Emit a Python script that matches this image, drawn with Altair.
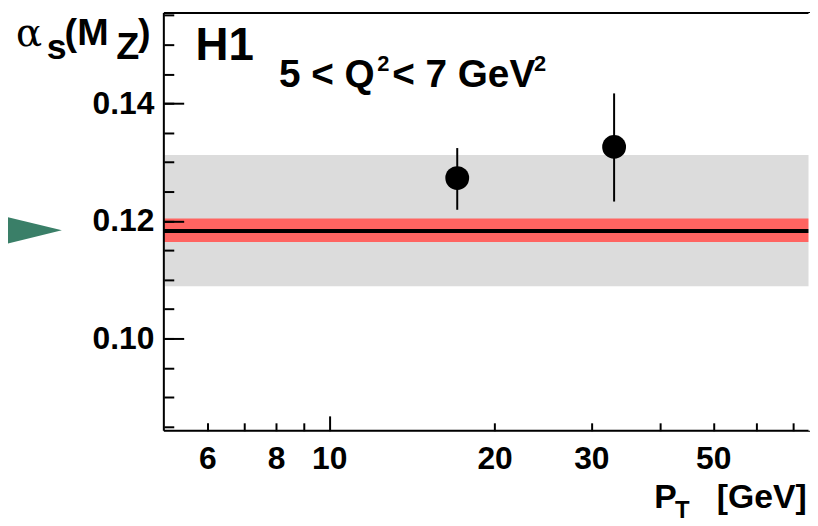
import altair as alt
import pandas as pd

# ---------------- data ----------------
pt_gev = [17.1, 33.0]
alpha_s = [0.1273, 0.1326]
alpha_lo = [0.1219, 0.1233]
alpha_hi = [0.1324, 0.1417]

theory_band = [0.1089, 0.1312]      # grey band (lo, hi)
world_band = [0.1164, 0.1204]       # red band (lo, hi)
world_avg = [0.1183]                # black line

arrow_pt = [2.75]
arrow_alpha = [0.1184]

x_label_values = [6, 8, 10, 20, 30, 50]
x_major_ticks = [10]
x_minor_ticks = [6, 7, 8, 9, 20, 30, 40, 50, 60, 70]
y_label_values = [0.10, 0.12, 0.14]
y_minor_ticks = [0.085, 0.09, 0.095, 0.10, 0.105, 0.11, 0.115, 0.12,
                 0.125, 0.13, 0.135, 0.14, 0.145, 0.15, 0.155]

X_DOMAIN = [5, 75]
Y_DOMAIN = [0.0843, 0.1554]

points = pd.DataFrame({"pt": pt_gev, "a": alpha_s, "lo": alpha_lo, "hi": alpha_hi})
grey = pd.DataFrame({"lo": [theory_band[0]], "hi": [theory_band[1]]})
red = pd.DataFrame({"lo": [world_band[0]], "hi": [world_band[1]]})
avg = pd.DataFrame({"v": world_avg})
arrow = pd.DataFrame({"x": arrow_pt, "y": arrow_alpha})
frame_left = pd.DataFrame({"v": [X_DOMAIN[0]]})
frame_right = pd.DataFrame({"v": [X_DOMAIN[1]]})
frame_hor = pd.DataFrame({"v": Y_DOMAIN})

FONT = "Liberation Sans"
xs = alt.Scale(type="log", domain=X_DOMAIN, nice=False, zero=False)
ys = alt.Scale(domain=Y_DOMAIN, nice=False, zero=False)

no_axis_common = dict(title=None, grid=False, zindex=2)

x_label_axis = alt.Axis(values=x_label_values, format="d", labels=True, ticks=False,
                        domain=False,
                        labelFont=FONT, labelFontWeight="bold", labelFontSize=32,
                        labelColor="black", labelPadding=13, labelOverlap=False,
                        labelFlush=False, labelBound=False, orient="bottom", **no_axis_common)
y_label_axis = alt.Axis(values=y_label_values, format=".2f", labels=True, ticks=False,
                        domain=False,
                        labelFont=FONT, labelFontWeight="bold", labelFontSize=32,
                        labelColor="black", labelPadding=10, labelOverlap=False,
                        labelFlush=False, labelBound=False, orient="left", **no_axis_common)


def tick_axis(values, size, orient):
    return alt.Axis(values=values, labels=False, ticks=True, domain=False,
                    tickSize=size, tickWidth=2, tickColor="black", offset=-size,
                    orient=orient, **no_axis_common)


base_pts = alt.Chart(points)

grey_band = alt.Chart(grey).mark_rect(color="#dcdcdc").encode(
    y=alt.Y("lo:Q", scale=ys, axis=None), y2="hi:Q")
red_band = alt.Chart(red).mark_rect(color="#ff6461").encode(
    y=alt.Y("lo:Q", scale=ys, axis=None), y2="hi:Q")
avg_line = alt.Chart(avg).mark_rule(color="black", strokeWidth=4).encode(
    y=alt.Y("v:Q", scale=ys, axis=None))

left_frame = alt.Chart(frame_left).mark_rule(color="black", strokeWidth=2).encode(
    x=alt.X("v:Q", scale=xs, axis=None))
hor_frame = alt.Chart(frame_hor).mark_rule(color="black", strokeWidth=2).encode(
    y=alt.Y("v:Q", scale=ys, axis=None))
# the reference's frame runs off the right edge: keep that edge open
right_open = alt.Chart(frame_right).mark_rule(color="white", strokeWidth=3).encode(
    x=alt.X("v:Q", scale=xs, axis=None))

err = base_pts.mark_rule(color="black", strokeWidth=2).encode(
    x=alt.X("pt:Q", scale=xs, axis=x_label_axis),
    y=alt.Y("lo:Q", scale=ys, axis=y_label_axis), y2="hi:Q")
dots = base_pts.mark_circle(color="black", size=576, opacity=1).encode(
    x=alt.X("pt:Q", scale=xs, axis=None),
    y=alt.Y("a:Q", scale=ys, axis=None))

major_ticks = base_pts.mark_point(opacity=0).encode(
    x=alt.X("pt:Q", scale=xs, axis=tick_axis(x_major_ticks, 15, "bottom")),
    y=alt.Y("a:Q", scale=ys, axis=tick_axis(y_label_values, 20, "left")))
minor_ticks = base_pts.mark_point(opacity=0).encode(
    x=alt.X("pt:Q", scale=xs, axis=tick_axis(x_minor_ticks, 8, "bottom")),
    y=alt.Y("a:Q", scale=ys, axis=tick_axis(y_minor_ticks, 10, "left")))

arrow_mark = alt.Chart(arrow).mark_point(
    shape="M-1,-0.49L1,0L-1,0.49Z", size=6724, filled=True, opacity=1,
    color="#3a7f68", strokeWidth=0).encode(
    x=alt.X("x:Q", scale=xs, axis=None), y=alt.Y("y:Q", scale=ys, axis=None))


def label(txt, x, y, size, weight="bold", font=FONT):
    return alt.Chart(pd.DataFrame({"t": [txt]})).mark_text(
        align="left", baseline="alphabetic", font=font, fontSize=size,
        fontWeight=weight, color="black").encode(
        x=alt.value(x), y=alt.value(y), text="t:N")


texts = [
    label("H1", 32, 47, 46),
    label("5 < Q", 116, 75, 39),
    label("2", 215, 59, 22),
    label("< 7 GeV", 230, 75, 39),
    label("2", 373, 59, 22),
    label("α", -149, 33, 39, weight="normal", font="DejaVu Serif"),
    label("s", -118, 46, 36),
    label("(M", -100, 32, 38),
    label("Z", -48, 46, 38),
    label(")", -26, 32, 38),
    label("P", 494, 499, 34),
    label("T", 515, 509, 24),
    label("[GeV]", 557, 499, 34),
]

chart = alt.layer(
    grey_band, red_band, avg_line, left_frame, hor_frame, right_open, err, dots,
    major_ticks, minor_ticks, arrow_mark, *texts
).resolve_axis(x="independent", y="independent").properties(
    width=651, height=421,
    padding={"left": 157, "top": 3, "right": 0, "bottom": 90},
    autosize=alt.AutoSizeParams(type="none"),
).configure_view(strokeWidth=0, stroke="transparent").configure(background="white")

chart.save("out.html", embed_options={"renderer": "svg", "actions": False})
